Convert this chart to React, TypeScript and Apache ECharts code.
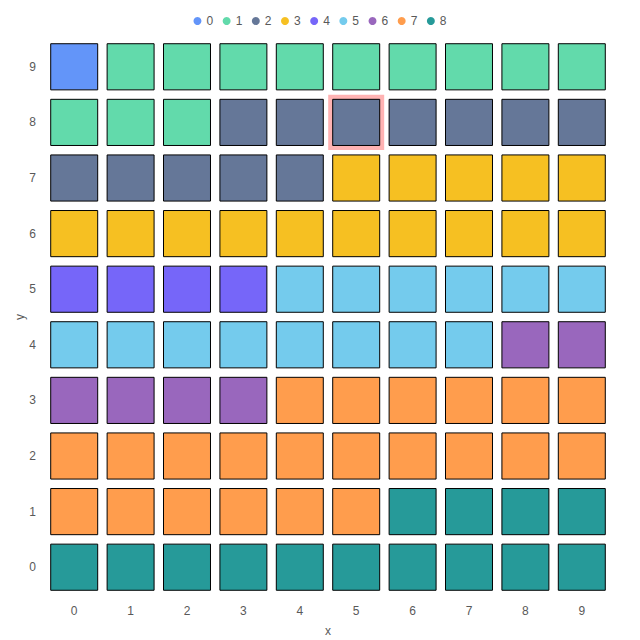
import React, { useEffect, useRef } from "react";
import * as echarts from "echarts";

const xCategories = ["0", "1", "2", "3", "4", "5", "6", "7", "8", "9"];
const yCategories = ["0", "1", "2", "3", "4", "5", "6", "7", "8", "9"];
const groupNames = ["0", "1", "2", "3", "4", "5", "6", "7", "8"];
const groupColors = [
  "#6395F9",
  "#62DAAB",
  "#657798",
  "#F6C022",
  "#7666F9",
  "#74CBED",
  "#9967BD",
  "#FF9D4D",
  "#269A99",
];
// category of each cell, rows listed from y = 9 (top) down to y = 0
const rowsTopDown = [
  [0, 1, 1, 1, 1, 1, 1, 1, 1, 1],
  [1, 1, 1, 2, 2, 2, 2, 2, 2, 2],
  [2, 2, 2, 2, 2, 3, 3, 3, 3, 3],
  [3, 3, 3, 3, 3, 3, 3, 3, 3, 3],
  [4, 4, 4, 4, 5, 5, 5, 5, 5, 5],
  [5, 5, 5, 5, 5, 5, 5, 5, 6, 6],
  [6, 6, 6, 6, 7, 7, 7, 7, 7, 7],
  [7, 7, 7, 7, 7, 7, 7, 7, 7, 7],
  [7, 7, 7, 7, 7, 7, 8, 8, 8, 8],
  [8, 8, 8, 8, 8, 8, 8, 8, 8, 8],
];
const highlightedCell = [5, 8];

export default function App() {
  const ref = useRef<HTMLDivElement>(null);
  useEffect(() => {
    if (!ref.current) return;
    const chart = echarts.init(ref.current, null, { renderer: "svg" });
    const series = groupNames.map((name, gi) => {
      const data: number[][] = [];
      rowsTopDown.forEach((row, ri) => {
        const y = rowsTopDown.length - 1 - ri;
        row.forEach((cat, x) => {
          if (cat === gi) data.push([x, y, cat]);
        });
      });
      return {
        type: "custom",
        name,
        data,
        itemStyle: { color: groupColors[gi] },
        encode: { x: 0, y: 1 },
        renderItem: (params: any, api: any) => {
          const xv = api.value(0);
          const yv = api.value(1);
          const c = api.coord([xv, yv]);
          const s = api.size([1, 1]);
          const w = s[0] * 0.833;
          const h = s[1] * 0.83;
          const rect = {
            type: "rect",
            shape: { x: c[0] - w / 2, y: c[1] - h / 2, width: w, height: h },
            style: { fill: groupColors[gi], stroke: "#000", lineWidth: 1 },
          };
          if (xv === highlightedCell[0] && yv === highlightedCell[1]) {
            const p = 4.5;
            return {
              type: "group",
              children: [
                {
                  type: "rect",
                  shape: {
                    x: c[0] - w / 2 - p,
                    y: c[1] - h / 2 - p,
                    width: w + 2 * p,
                    height: h + 2 * p,
                  },
                  style: { fill: "#FFB3B3" },
                },
                rect,
              ],
            };
          }
          return rect;
        },
      };
    });
    chart.setOption({
      animation: false,
      color: groupColors,
      textStyle: { fontFamily: "Liberation Sans, Arial, sans-serif" },
      legend: {
        top: 10,
        left: "center",
        icon: "circle",
        itemWidth: 8,
        itemHeight: 8,
        itemGap: 9.5,
        textStyle: { color: "#595959", fontSize: 12 },
        data: groupNames,
      },
      grid: { left: 46, right: 30, top: 39, bottom: 45, outerBoundsMode: "none" },
      xAxis: {
        type: "category",
        data: xCategories,
        name: "x",
        nameLocation: "middle",
        nameGap: 30,
        nameMoveOverlap: false,
        nameTextStyle: { color: "#595959", fontSize: 12 },
        axisLine: { show: false },
        axisTick: { alignWithLabel: true, length: 4, lineStyle: { color: "#d9d9d9" } },
        axisLabel: { color: "#595959", fontSize: 12, margin: 10 },
        splitLine: { show: false },
      },
      yAxis: {
        type: "category",
        data: yCategories,
        name: "y",
        nameLocation: "middle",
        nameGap: 20,
        nameMoveOverlap: false,
        nameTextStyle: { color: "#595959", fontSize: 12 },
        axisLine: { show: false },
        axisTick: { alignWithLabel: true, length: 4, lineStyle: { color: "#d9d9d9" } },
        axisLabel: { color: "#595959", fontSize: 12, margin: 10 },
        splitLine: { show: false },
      },
      series,
    });
    return () => chart.dispose();
  }, []);
  return <div ref={ref} style={{ width: 640, height: 640, position: "absolute", left: 0, top: 0 }} />;
}
